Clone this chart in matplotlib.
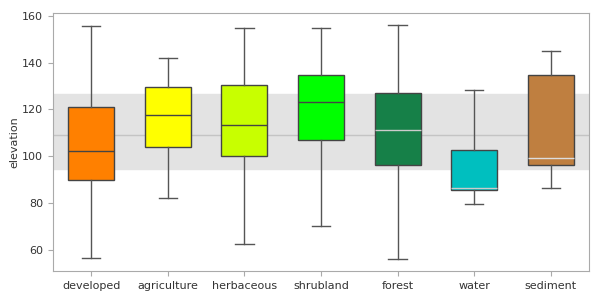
import matplotlib
matplotlib.use("Agg")
import matplotlib.pyplot as plt

categories = ["developed", "agriculture", "herbaceous", "shrubland", "forest", "water", "sediment"]
whislo = [56.6, 82.3, 62.3, 70.0, 56.0, 79.5, 86.6]
q1 = [89.8, 104.0, 100.0, 107.1, 96.4, 85.6, 96.1]
med = [102.3, 117.4, 113.5, 123.1, 111.2, 86.2, 99.1]
q3 = [121.0, 129.4, 130.2, 134.5, 126.9, 102.6, 134.6]
whishi = [155.6, 141.8, 154.7, 154.7, 156.0, 128.3, 144.9]
colors = ["#ff8000", "#ffff00", "#c8ff00", "#00ff00", "#168048", "#00bfbf", "#bf7f40"]
median_colors = ["#444444", "#444444", "#444444", "#444444", "#cccccc", "#cccccc", "#dddddd"]

band_low, band_high, band_mid = 94.7, 126.6, 109.0

plt.rcParams['font.size'] = 8
fig = plt.figure(figsize=(6, 3), dpi=100)
ax = fig.add_axes([0.088, 0.097, 0.894, 0.86])

# grey reference band with its centre line
ax.axhspan(band_low, band_high, color="#e3e3e3", zorder=0)
ax.axhline(band_mid, color="#c4c4c4", lw=1, zorder=0.5)

stats = []
for i, c in enumerate(categories):
    stats.append({'label': c, 'whislo': whislo[i], 'q1': q1[i], 'med': med[i],
                  'q3': q3[i], 'whishi': whishi[i], 'fliers': []})

bp = ax.bxp(stats, positions=range(len(categories)), widths=0.6, patch_artist=True,
            showfliers=False, capwidths=0.24,
            boxprops=dict(edgecolor="#444444", linewidth=1),
            whiskerprops=dict(color="#555555", linewidth=1),
            capprops=dict(color="#555555", linewidth=1),
            medianprops=dict(linewidth=1))
for patch, col in zip(bp['boxes'], colors):
    patch.set_facecolor(col)
for line, col in zip(bp['medians'], median_colors):
    line.set_color(col)

ax.set_xlim(-0.5, 6.5)
ax.set_ylim(51, 161.2)
ax.set_yticks([60, 80, 100, 120, 140, 160])
ax.set_ylabel("elevation", color="#333333", labelpad=2)
for s in ax.spines.values():
    s.set_color("#aaaaaa")
ax.tick_params(colors="#aaaaaa", labelcolor="#333333")

fig.savefig("out.png", dpi=100)
